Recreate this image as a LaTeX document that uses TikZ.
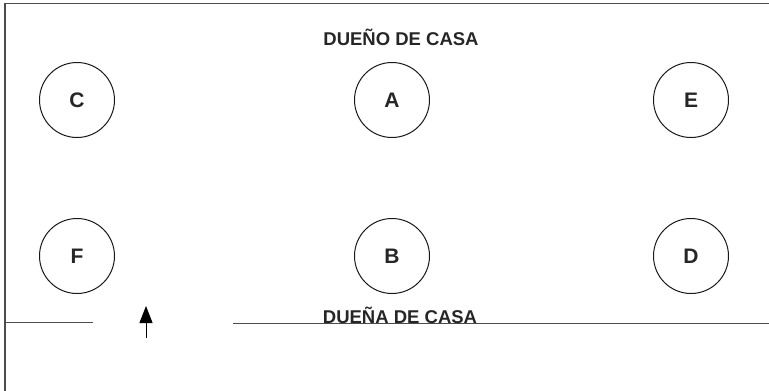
\documentclass[tikz,border=0pt]{standalone}
\usepackage{fontspec}
\setmainfont{Liberation Sans}
\usetikzlibrary{arrows.meta}
\begin{document}
\begin{tikzpicture}[x=1pt,y=1pt]
        \tikzstyle{every node}+=[inner sep=0pt]
        \tikzstyle{puesto}=[draw=black!90, circle, line width=1pt, minimum size=75pt, font=\fontsize{21}{21}\selectfont\bfseries, text=black!85]
        \tikzstyle{rotulo}=[font=\fontsize{18.5}{18.5}\selectfont\bfseries, text=black!85]
        \tikzstyle{muro}=[draw=black!70, line width=1.2pt]
        \useasboundingbox (0,0) rectangle (769,-391);
        % muros
        \draw [muro] (769,-3.5) -- (5,-3.5) -- (5,-391);
        \draw [muro] (5,-322.5) -- (93,-322.5);
        \draw [muro] (233,-323.5) -- (769,-323.5);
        % puestos
        \node [puesto] (C) at (77,-100) {C};
        \node [puesto] (A) at (392,-100) {A};
        \node [puesto] (E) at (691,-100) {E};
        \node [puesto] (F) at (77,-256) {F};
        \node [puesto] (B) at (392,-256) {B};
        \node [puesto] (D) at (691,-256) {D};
        % rotulos
        \node [rotulo] (duenio) at (401,-37) {DUEÑO DE CASA};
        \node [rotulo] (duenia) at (400,-315) {DUEÑA DE CASA};
        % entrada
        \coordinate (pie) at (146,-338);
        \coordinate (punta) at (146,-306);
        \draw [black, line width=1pt, -{Triangle[length=17pt,width=13pt]}] (pie) -- (punta);
\end{tikzpicture}
\end{document}
